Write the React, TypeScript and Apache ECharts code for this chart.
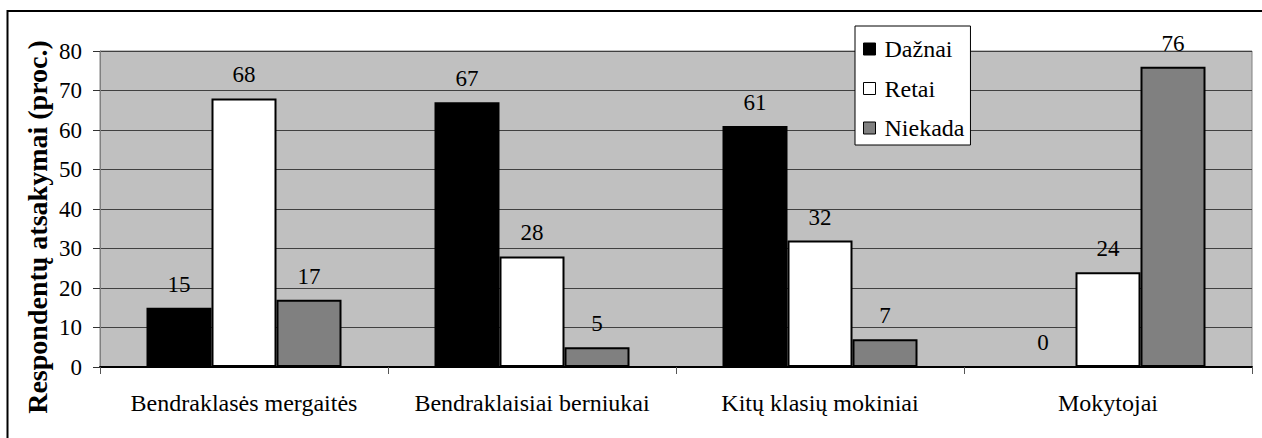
import React, { useEffect, useRef } from "react";
import * as echarts from "echarts";

const categories = [
  "Bendraklasės mergaitės",
  "Bendraklaisiai berniukai",
  "Kitų klasių mokiniai",
  "Mokytojai",
];
const seriesNames = ["Dažnai", "Retai", "Niekada"];
const daznai = [15, 67, 61, 0];
const retai = [68, 28, 32, 24];
const niekada = [17, 5, 7, 76];
const seriesColors = ["#000000", "#ffffff", "#808080"];
const yTicks = { min: 0, max: 80, interval: 10 };
const yAxisName = "Respondentų atsakymai (proc.)";

const FONT = "Liberation Serif";

export default function App() {
  const ref = useRef<HTMLDivElement>(null);
  useEffect(() => {
    if (!ref.current) return;
    const chart = echarts.init(ref.current, null, { renderer: "svg" });
    const values = [daznai, retai, niekada];
    chart.setOption({
      animation: false,
      backgroundColor: "#ffffff",
      textStyle: { fontFamily: FONT },
      grid: {
        left: 100,
        right: 10,
        top: 51,
        bottom: 71,
        show: true,
        backgroundColor: "#C0C0C0",
        borderColor: "#808080",
        borderWidth: 1,
      },
      legend: {
        orient: "vertical",
        left: 855,
        top: 26,
        padding: [11, 6, 5, 8],
        itemGap: 15.5,
        itemWidth: 12,
        itemHeight: 12,
        icon: "rect",
        backgroundColor: "#ffffff",
        borderColor: "#000000",
        borderWidth: 1,
        borderRadius: 0,
        textStyle: {
          fontFamily: FONT,
          fontSize: 24,
          lineHeight: 24,
          color: "#000",
          padding: [0, 0, 0, 4],
        },
        itemStyle: { borderColor: "#000", borderWidth: 1 },
        data: seriesNames,
      },
      graphic: [
        {
          type: "rect",
          shape: { x: 7.5, y: 11, width: 1300, height: 500 },
          style: { fill: "none", stroke: "#000", lineWidth: 2 },
          silent: true,
          z: 100,
        },
        {
          type: "text",
          x: 37,
          y: 227,
          rotation: Math.PI / 2,
          style: {
            text: yAxisName,
            fontFamily: FONT,
            fontSize: 28,
            fontWeight: "bold",
            fill: "#000",
            textAlign: "center",
            textVerticalAlign: "middle",
          },
          silent: true,
        },
      ],
      xAxis: {
        type: "category",
        data: categories,
        axisLine: { show: true, lineStyle: { color: "#000", width: 2 } },
        axisTick: { show: true, interval: 0, length: 7, lineStyle: { color: "#555", width: 1 } },
        axisLabel: {
          interval: 0,
          hideOverlap: false,
          fontFamily: FONT,
          fontSize: 24,
          color: "#000",
          margin: 24,
        },
        splitLine: { show: false },
      },
      yAxis: {
        type: "value",
        min: yTicks.min,
        max: yTicks.max,
        interval: yTicks.interval,
        axisLine: { show: true, lineStyle: { color: "#808080", width: 1 } },
        axisTick: { show: true, length: 7, inside: false, lineStyle: { color: "#333", width: 1 } },
        axisLabel: {
          fontFamily: FONT,
          fontSize: 23,
          color: "#000",
          margin: 18,
        },
        splitLine: { show: true, lineStyle: { color: "#404040", width: 1 } },
      },
      series: seriesNames.map((name, i) => ({
        name,
        type: "bar",
        data: values[i],
        barWidth: 65,
        barGap: "0%",
        itemStyle: {
          color: seriesColors[i],
          borderColor: "#000",
          borderWidth: 2,
        },
        label: {
          show: true,
          position: "top",
          distance: 12,
          fontFamily: FONT,
          fontSize: 23,
          color: "#000",
        },
      })),
    });
    return () => chart.dispose();
  }, []);
  return (
    <div
      ref={ref}
      style={{ position: "fixed", left: 0, top: 0, width: 1262, height: 438 }}
    />
  );
}
